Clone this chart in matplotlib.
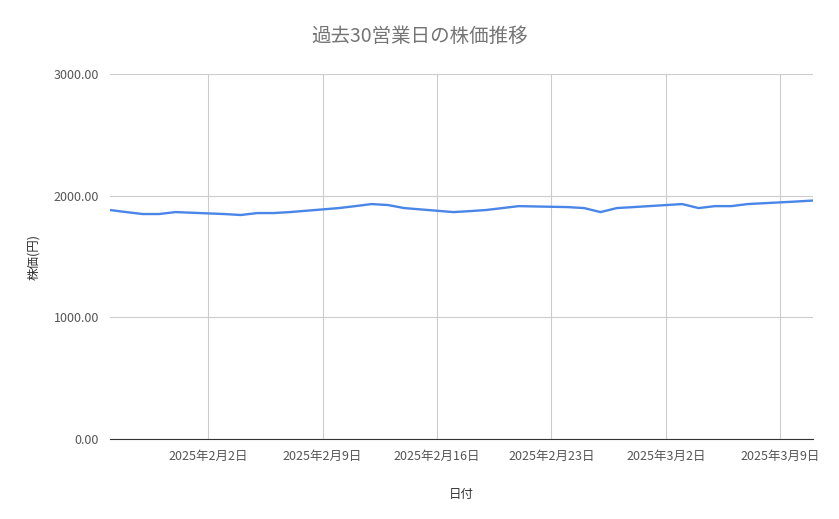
import matplotlib
matplotlib.use("Agg")
import matplotlib.pyplot as plt
import pandas as pd

plt.rcParams['font.family'] = ['Noto Sans CJK JP', 'DejaVu Sans']

# business days and closing prices
dates = pd.bdate_range("2025-01-27", "2025-03-11")
prices = [1882, 1865, 1849, 1849, 1865, 1849, 1841, 1857, 1857, 1865,
          1898, 1914, 1931, 1923, 1898, 1865, 1873, 1882, 1898, 1914,
          1906, 1898, 1865, 1898, 1906, 1931, 1898, 1914, 1914, 1931, 1952, 1960]
tick_dates = pd.date_range("2025-02-02", "2025-03-09", freq="7D")
tick_labels = ["2025年2月2日", "2025年2月9日", "2025年2月16日", "2025年2月23日",
               "2025年3月2日", "2025年3月9日"]
y_ticks = [0, 1000, 2000, 3000]

fig = plt.figure(figsize=(8.39, 5.19), dpi=100)
ax = fig.add_axes([110 / 839, 1 - 439 / 519, 703 / 839, 365 / 519])

ax.plot(dates, prices, color="#4a86e8", linewidth=1.7)

ax.set_xlim(pd.Timestamp("2025-01-27"), pd.Timestamp("2025-03-11"))
ax.set_ylim(0, 3000)
ax.set_xticks(tick_dates)
ax.set_xticklabels(tick_labels)
ax.set_yticks(y_ticks)
ax.set_yticklabels([f"{v:.2f}" for v in y_ticks])
ax.grid(True, color="#cccccc", linewidth=0.8)
ax.tick_params(length=0, labelsize=9, colors="#555555", pad=8)
for side in ["top", "right", "left"]:
    ax.spines[side].set_visible(False)
ax.spines["bottom"].set_color("#333333")

ax.set_xlabel("日付", fontsize=9, color="#333333", labelpad=18)
ax.set_ylabel("株価(円)", fontsize=9, color="#333333", labelpad=10)
fig.suptitle("過去30営業日の株価推移", fontsize=14, color="#757575", y=0.95)

fig.savefig("out.png", dpi=100)
